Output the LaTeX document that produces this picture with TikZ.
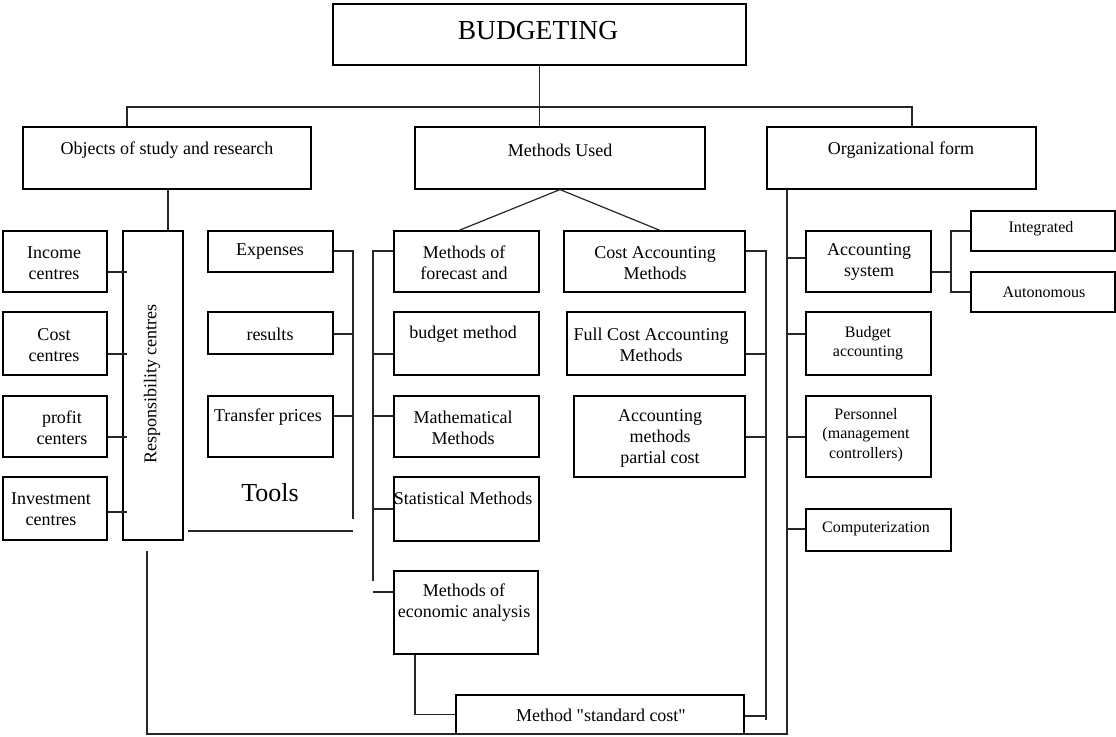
\documentclass[tikz,border=0pt]{standalone}
\usepackage{fontspec}
\setmainfont{Liberation Serif}[Ligatures=TeXOff]
\usetikzlibrary{fit}
\begin{document}
\begin{tikzpicture}[x=1pt,y=-1pt,
  box/.style={draw=black,line width=1.2pt,inner sep=0pt,rectangle},
  conn/.style={draw=black!85,line width=1.2pt},
  tt/.style={font=\fontsize{18}{21}\selectfont,align=center,inner sep=0pt},
  ts/.style={font=\fontsize{16}{19.5}\selectfont,align=center,inner sep=0pt}]
\useasboundingbox (0,0) rectangle (1116,736);
% boxes
\node[box,fit={(333,4) (746,65)}] (top) {};
\node[box,fit={(23,127) (311,189)}] (obj) {};
\node[box,fit={(415,127) (705,189)}] (meth) {};
\node[box,fit={(767,127) (1036,189)}] (org) {};
\node[box,fit={(3,231) (107,292)}] (inc) {};
\node[box,fit={(3,312) (107,375)}] (cst) {};
\node[box,fit={(3,396) (107,457)}] (prf) {};
\node[box,fit={(3,477) (107,540)}] (inv) {};
\node[box,fit={(123,231) (183,540)}] (resp) {};
\node[box,fit={(208,231) (333,272)}] (exp) {};
\node[box,fit={(208,312) (333,354)}] (res) {};
\node[box,fit={(208,396) (333,457)}] (trp) {};
\node[box,fit={(394,231) (539,292)}] (fc) {};
\node[box,fit={(394,312) (539,375)}] (bud) {};
\node[box,fit={(394,396) (539,457)}] (mat) {};
\node[box,fit={(394,477) (539,541)}] (sta) {};
\node[box,fit={(394,571) (538,654)}] (eco) {};
\node[box,fit={(564,231) (745,292)}] (cam) {};
\node[box,fit={(567,312) (745,375)}] (fca) {};
\node[box,fit={(574,396) (745,477)}] (pca) {};
\node[box,fit={(456,695) (744,734.5)}] (std) {};
\node[box,fit={(806,231) (931,292)}] (acs) {};
\node[box,fit={(971,211) (1115,251)}] (int) {};
\node[box,fit={(971,272) (1115,312)}] (aut) {};
\node[box,fit={(806,312) (931,375)}] (bac) {};
\node[box,fit={(806,396) (931,477)}] (per) {};
\node[box,fit={(806,509) (951,551)}] (com) {};
% texts
\node[tt,font=\fontsize{27.5}{30}\selectfont] (ttop) at (538,31) {BUDGETING};
\node[tt] (tobj) at (167,150) {Objects of study and research};
\node[tt] (tmeth) at (560,150) {Methods Used};
\node[tt] (torg) at (901,150) {Organizational form};
\node[tt] (tinc) at (54,263) {Income\\centres};
\node[tt] (tcst) at (54,345) {Cost\\centres};
\node[tt] (tprf) at (62,428) {profit\\centers};
\node[tt] (tinv) at (51,509) {Investment\\centres};
\node[tt,rotate=90] (tresp) at (152,384) {Responsibility centres};
\node[tt] (texp) at (270,252) {Expenses};
\node[tt] (tres) at (270,334) {results};
\node[tt] (ttrp) at (268,417) {Transfer prices};
\node[tt,font=\fontsize{26}{30}\selectfont] (ttools) at (270,493) {Tools};
\node[tt] (tfc) at (464,263) {Methods of\\forecast and};
\node[tt] (tbud) at (463,334) {budget method};
\node[tt] (tmat) at (463,428) {Mathematical\\Methods};
\node[tt] (tsta) at (463,498) {Statistical Methods};
\node[tt] (teco) at (464,603) {Methods of\\economic analysis};
\node[tt] (tcam) at (655,263) {Cost Accounting\\Methods};
\node[tt] (tfca) at (651,345) {Full Cost Accounting\\Methods};
\node[tt] (tpca) at (660,438) {Accounting\\methods\\partial cost};
\node[tt] (tstd) at (601,715) {Method "standard cost"};
\node[tt] (tacs) at (869,262) {Accounting\\system};
\node[ts] (tint) at (1041,229) {Integrated};
\node[ts] (taut) at (1044,292) {Autonomous};
\node[ts] (tbac) at (868,343) {Budget\\accounting};
\node[ts] (tper) at (866,435) {Personnel\\(management\\controllers)};
\node[ts] (tcom) at (876,529) {Computerization};
% coordinates
\coordinate (h1) at (127,107);
\coordinate (h2) at (912,107);
\coordinate (r1) at (168,0);
\coordinate (rx) at (127,0);
\coordinate (tb) at (353,251);
\coordinate (tbe) at (353,519);
\coordinate (hl1) at (188,531);
\coordinate (hl2) at (353,531);
\coordinate (mb) at (373,251);
\coordinate (mbe) at (373,581);
\coordinate (dl) at (459,0);
\coordinate (dr) at (660,0);
\coordinate (cb) at (766,251);
\coordinate (cbe) at (766,720);
\coordinate (ex) at (415,0);
\coordinate (lb) at (147,551);
\coordinate (ob) at (787,734);
\coordinate (ab) at (951,0);
% connectors
\draw[conn] (top.south) -- (top.south |- meth.north);
\draw[conn] (obj.north -| h1) -- (h1) -- (h2) -- (h2 |- org.north);
\draw[conn] (obj.south -| r1) -- (resp.north -| r1);
\draw[conn] (inc.east |- 0,272) -- (rx |- 0,272);
\draw[conn] (cst.east |- 0,354) -- (rx |- 0,354);
\draw[conn] (prf.east |- 0,437) -- (rx |- 0,437);
\draw[conn] (inv.east |- 0,512) -- (rx |- 0,512);
\draw[conn] (exp.east |- tb) -- (tb) -- (tbe);
\draw[conn] (res.east |- 0,334) -- (tb |- 0,334);
\draw[conn] (trp.east |- 0,416) -- (tb |- 0,416);
\draw[conn] (hl1) -- (hl2);
\draw[conn] (fc.west |- mb) -- (mb) -- (mbe);
\draw[conn] (bud.west |- 0,354) -- (mb |- 0,354);
\draw[conn] (mat.west |- 0,416) -- (mb |- 0,416);
\draw[conn] (sta.west |- 0,509) -- (mb |- 0,509);
\draw[conn] (eco.west |- 0,592) -- (mb |- 0,592);
\draw[conn] (fc.north -| dl) -- (meth.south) -- (cam.north -| dr);
\draw[conn] (cam.east |- cb) -- (cb) -- (cbe);
\draw[conn] (fca.east |- 0,354) -- (cb |- 0,354);
\draw[conn] (pca.east |- 0,437) -- (cb |- 0,437);
\draw[conn] (std.east |- 0,716) -- (cb |- 0,716);
\draw[conn] (eco.south -| ex) -- (ex |- std.west) -- (std.west);
\draw[conn] (org.south -| ob) -- (ob) -- (ob -| lb) -- (lb);
\draw[conn] (ob |- 0,258) -- (acs.west |- 0,258);
\draw[conn] (ob |- 0,334) -- (bac.west |- 0,334);
\draw[conn] (ob |- 0,437) -- (per.west |- 0,437);
\draw[conn] (ob |- 0,529) -- (com.west |- 0,529);
\draw[conn] (acs.east |- 0,272) -- (ab |- 0,272);
\draw[conn] (int.west |- 0,231) -- (ab |- 0,231) -- (ab |- 0,292) -- (aut.west |- 0,292);
\end{tikzpicture}
\end{document}
